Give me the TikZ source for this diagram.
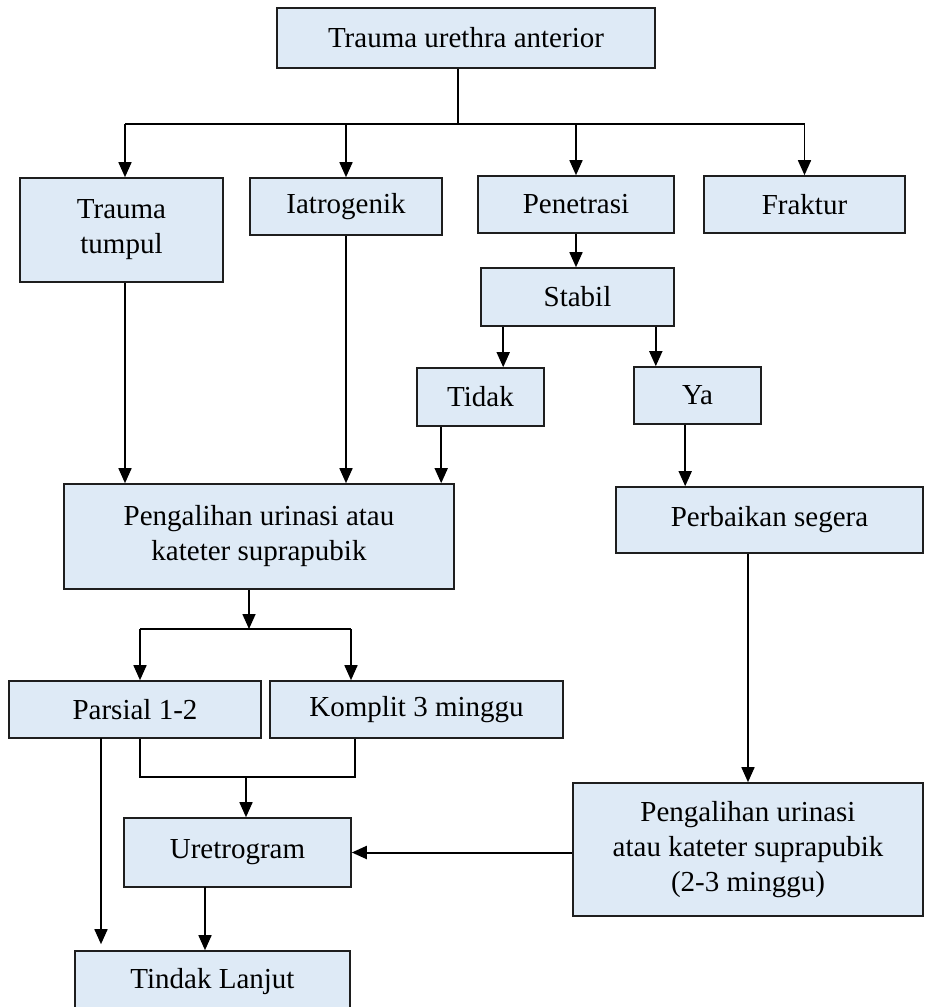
\documentclass[tikz,border=0pt]{standalone}
\usepackage{fontspec}
\setmainfont{Liberation Serif}
\usetikzlibrary{arrows.meta}
\definecolor{boxfill}{RGB}{222,234,246}
\definecolor{boxline}{RGB}{30,30,30}
\tikzset{
  fbox/.style={draw=boxline, fill=boxfill, line width=1.6pt, inner sep=0pt,
    align=center, font=\fontsize{29}{35}\selectfont},
  arr/.style={line width=1.6pt, -{Triangle[length=15pt,width=13pt]}},
  ln/.style={line width=1.6pt},
}
\newcommand{\bx}[6]{%
  \pgfmathsetmacro{\bw}{#4-#2}\pgfmathsetmacro{\bh}{#5-#3}%
  \node[fbox, minimum width=\bw pt, minimum height=\bh pt] (#1) at ({(#2+#4)/2},{(#3+#5)/2}) {#6};}
\begin{document}
\begin{tikzpicture}[x=1pt,y=-1pt]
\useasboundingbox (0,0) rectangle (925,1007);
\fill[white] (0,0) rectangle (925,1007);
\clip (0,0) rectangle (925,1007);
% boxes
\bx{top}{277}{8}{655}{68}{Trauma urethra anterior}
\bx{tumpul}{20}{178}{223}{282}{Trauma\\tumpul}
\bx{iatro}{250}{178}{442}{235}{Iatrogenik}
\bx{pene}{478}{176}{674}{233}{Penetrasi}
\bx{fraktur}{704}{176}{905}{233}{Fraktur}
\bx{stabil}{481}{268}{674}{326}{Stabil}
\bx{tidak}{417}{368}{544}{426}{Tidak}
\bx{ya}{634}{367}{761}{424}{Ya}
\bx{pengA}{64}{484}{454}{589}{Pengalihan urinasi atau\\kateter suprapubik}
\bx{perb}{616}{487}{923}{553}{Perbaikan segera}
\bx{parsial}{9}{681}{261}{738}{Parsial 1-2}
\bx{komplit}{270}{681}{563}{738}{Komplit 3 minggu}
\bx{ureto}{124}{818}{351}{887}{Uretrogram}
\bx{pengB}{573}{783}{923}{916}{Pengalihan urinasi\\atau kateter suprapubik\\(2-3 minggu)}
\bx{tindak}{75}{951}{350}{1012}{Tindak Lanjut}
% top bus
\coordinate (tb) at (458,124);
\draw[ln] ([xshift=-8pt]top.south) -- (tb);
\coordinate (tbL) at (125,124);
\coordinate (tbR) at (fraktur.north |- tb);
\draw[ln] (tbL) -- (tbR);
\draw[arr] (tbL) -- (tbL |- tumpul.north);
\draw[arr] (iatro.north |- tb) -- (iatro.north);
\draw[arr] (pene.north |- tb) -- (pene.north);
\draw[arr] (tbR) -- (fraktur.north);
% Penetrasi branch
\draw[arr] (pene.south) -- (pene.south |- stabil.north);
\draw[arr] ([xshift=23pt]stabil.south west) -- ([xshift=23pt]stabil.south west |- tidak.north);
\draw[arr] ([xshift=-19pt]stabil.south east) -- ([xshift=-19pt]stabil.south east |- ya.north);
\draw[arr] ([xshift=52pt]ya.south west) -- ([xshift=52pt]ya.south west |- perb.north);
\draw[arr] (perb.south -| pengB.north) -- (pengB.north);
% into first Pengalihan
\draw[arr] (tbL |- tumpul.south) -- (tbL |- pengA.north);
\draw[arr] (iatro.south) -- (iatro.south |- pengA.north);
\draw[arr] ([xshift=25pt]tidak.south west) -- ([xshift=25pt]tidak.south west |- pengA.north);
% split to Parsial / Komplit
\coordinate (busL) at (140,629);
\coordinate (busR) at (351,629);
\draw[arr] ([xshift=-10pt]pengA.south) -- ([xshift=-10pt]pengA.south |- busL);
\draw[ln] (busL) -- (busR);
\draw[arr] (busL) -- (busL |- parsial.north);
\draw[arr] (busR) -- (busR |- komplit.north);
% join to Uretrogram
\coordinate (jL) at (140,777);
\coordinate (jR) at (355,777);
\coordinate (jM) at (246,777);
\draw[ln] (jL |- parsial.south) -- (jL) -- (jR) -- (jR |- komplit.south);
\draw[arr] (jM) -- (jM |- ureto.north);
% to Tindak Lanjut
\coordinate (pd) at (101,738);
\draw[arr, shorten >=6pt] (pd) -- (pd |- tindak.north);
\coordinate (ud) at (205,887);
\draw[arr] (ud) -- (ud |- tindak.north);
% right box to Uretrogram
\draw[arr, line width=2pt] (pengB.west |- ureto.east) -- (ureto.east);
\end{tikzpicture}
\end{document}
